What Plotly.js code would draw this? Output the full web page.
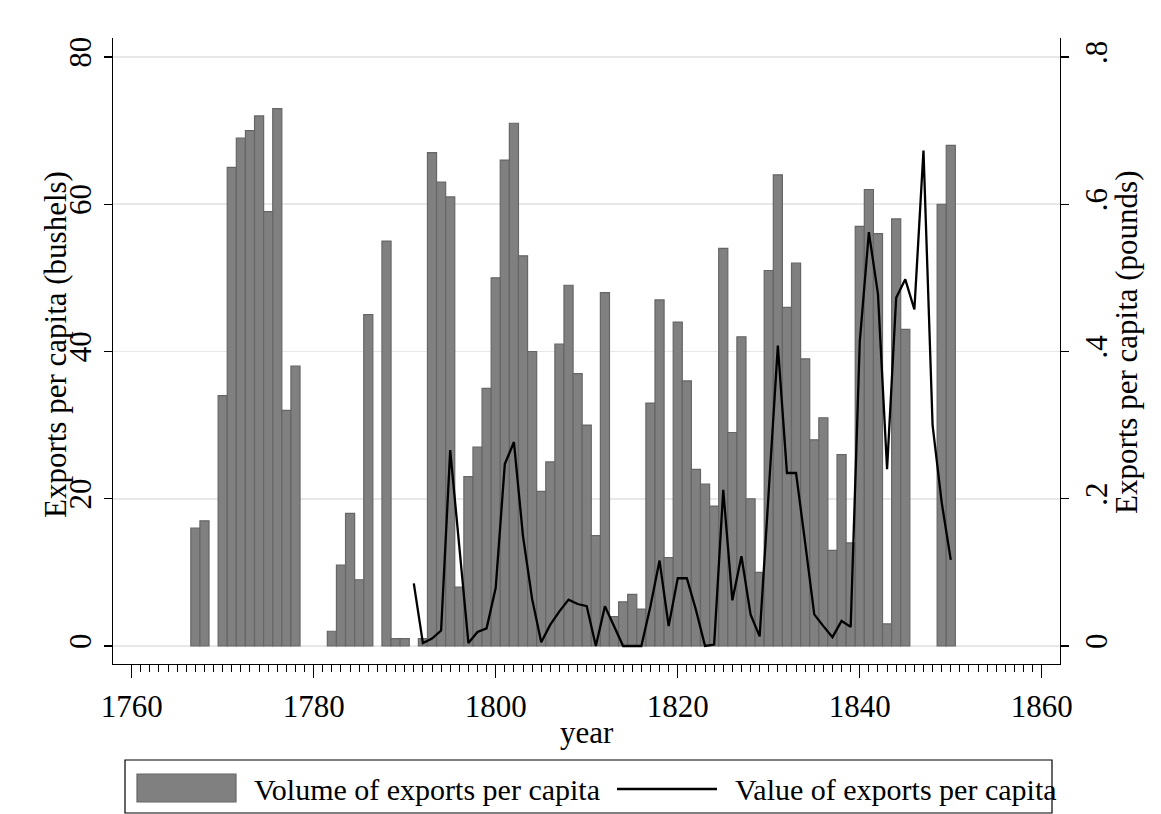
<!DOCTYPE html>
<html>
<head>
<meta charset="utf-8">
<script src="https://cdn.plot.ly/plotly-3.0.1.min.js"></script>
<style>
  html, body { margin: 0; padding: 0; background: white; }
  #myDiv { width: 1161px; height: 814px; }
</style>
</head>
<body>
<div id="myDiv"></div>
<script>
// volume of exports per capita (bushels), by year
var volYears = [1767, 1768, 1770, 1771, 1772, 1773, 1774, 1775, 1776, 1777, 1778,
  1782, 1783, 1784, 1785, 1786, 1788, 1789, 1790, 1792,
  1793, 1794, 1795, 1796, 1797, 1798, 1799, 1800, 1801, 1802, 1803, 1804, 1805,
  1806, 1807, 1808, 1809, 1810, 1811, 1812, 1813, 1814, 1815, 1816, 1817, 1818,
  1819, 1820, 1821, 1822, 1823, 1824, 1825, 1826, 1827, 1828, 1829, 1830, 1831,
  1832, 1833, 1834, 1835, 1836, 1837, 1838, 1839, 1840, 1841, 1842, 1843, 1844,
  1845, 1849, 1850];
var volume = [16, 17, 34, 65, 69, 70, 72, 59, 73, 32, 38,
  2, 11, 18, 9, 45, 55, 1, 1, 1,
  67, 63, 61, 8, 23, 27, 35, 50, 66, 71, 53, 40, 21,
  25, 41, 49, 37, 30, 15, 48, 4, 6, 7, 5, 33, 47,
  12, 44, 36, 24, 22, 19, 54, 29, 42, 20, 10, 51, 64,
  46, 52, 39, 28, 31, 13, 26, 14, 57, 62, 56, 3, 58,
  43, 60, 68];

// value of exports per capita (pounds), 1791-1850
var valYears = [1791, 1792, 1793, 1794, 1795, 1796, 1797, 1798, 1799, 1800,
  1801, 1802, 1803, 1804, 1805, 1806, 1807, 1808, 1809, 1810,
  1811, 1812, 1813, 1814, 1815, 1816, 1817, 1818, 1819, 1820,
  1821, 1822, 1823, 1824, 1825, 1826, 1827, 1828, 1829, 1830,
  1831, 1832, 1833, 1834, 1835, 1836, 1837, 1838, 1839, 1840,
  1841, 1842, 1843, 1844, 1845, 1846, 1847, 1848, 1849, 1850];
var value = [0.085, 0.004, 0.010, 0.021, 0.266, 0.13, 0.004, 0.019, 0.024, 0.079,
  0.247, 0.277, 0.149, 0.064, 0.005, 0.029, 0.047, 0.063, 0.057, 0.054,
  0.0, 0.054, 0.027, 0.0, 0.0, 0.0, 0.054, 0.116, 0.027, 0.092,
  0.092, 0.049, 0.0, 0.002, 0.212, 0.062, 0.122, 0.043, 0.013, 0.21,
  0.408, 0.235, 0.235, 0.14, 0.043, 0.027, 0.012, 0.034, 0.026, 0.413,
  0.562, 0.478, 0.240, 0.473, 0.498, 0.457, 0.673, 0.30, 0.195, 0.117];

var xTicks = [1760, 1780, 1800, 1820, 1840, 1860];
var leftTicks = [0, 20, 40, 60, 80];
var rightTicks = [0, 0.2, 0.4, 0.6, 0.8];
var rightLabels = ['0', '.2', '.4', '.6', '.8'];

// yearly minor ticks, only between the first and last major tick
var minorTicks = [];
for (var yr = xTicks[0] + 1; yr < xTicks[xTicks.length - 1]; yr++) {
  if (xTicks.indexOf(yr) < 0) minorTicks.push(yr);
}

var serif = 'Liberation Serif, Times New Roman, serif';
var std_font = {family: serif, size: 31, color: 'black'};
var legend_font = {family: serif, size: 30, color: 'black'};

// plot area in pixels
var L = 113, R = 1060, T = 38, B = 664;
function px(x) { return (x - L) / (R - L); }
function py(y) { return (B - y) / (B - T); }

var bars = {
  x: volYears,
  y: volume,
  type: 'bar',
  width: 1,
  name: 'Volume of exports per capita',
  marker: {color: '#808080', line: {color: '#666666', width: 1.2}}
};
var line = {
  x: valYears,
  y: value,
  type: 'scatter',
  mode: 'lines',
  yaxis: 'y2',
  name: 'Value of exports per capita',
  line: {color: 'black', width: 2.3}
};

var layout = {
  width: 1161,
  height: 814,
  margin: {l: L, r: 1161 - R, t: T, b: 814 - B},
  paper_bgcolor: 'white',
  plot_bgcolor: 'white',
  font: std_font,
  showlegend: false,
  bargap: 0,
  xaxis: {
    range: [1757.95, 1862.0],
    tickmode: 'array',
    tickvals: xTicks,
    ticks: 'outside',
    ticklen: 13,
    tickwidth: 1.3,
    tickcolor: 'black',
    showline: true,
    linecolor: 'black',
    linewidth: 1.3,
    showgrid: false,
    zeroline: false,
    tickfont: std_font,
    ticklabelstandoff: 1,
    minor: {tickmode: 'array', tickvals: minorTicks, ticks: 'outside', ticklen: 7,
            tickwidth: 1, tickcolor: 'black', showgrid: false}
  },
  yaxis: {
    range: [-2.445, 82.58],
    tickvals: leftTicks,
    tickangle: -90,
    ticks: 'outside',
    ticklen: 8,
    tickwidth: 1.3,
    tickcolor: 'black',
    showline: true,
    linecolor: 'black',
    linewidth: 1.3,
    showgrid: true,
    gridcolor: '#e8e8e8',
    gridwidth: 1.6,
    zeroline: false,
    tickfont: std_font
  },
  yaxis2: {
    range: [-0.02445, 0.8258],
    overlaying: 'y',
    side: 'right',
    tickvals: rightTicks,
    ticktext: rightLabels,
    tickangle: -90,
    ticks: 'outside',
    ticklen: 8,
    tickwidth: 1.3,
    tickcolor: 'black',
    showline: true,
    linecolor: 'black',
    linewidth: 1.3,
    showgrid: false,
    zeroline: false,
    tickfont: std_font
  },
  annotations: [
    {text: 'year', xref: 'paper', yref: 'paper', x: 0.5, y: py(732),
     xanchor: 'center', yanchor: 'middle', showarrow: false, font: std_font},
    {text: 'Exports per capita (bushels)', xref: 'paper', yref: 'paper', x: px(55), y: py(345),
     xanchor: 'center', yanchor: 'middle', textangle: -90, showarrow: false, font: std_font},
    {text: 'Exports per capita (pounds)', xref: 'paper', yref: 'paper', x: px(1127), y: py(343),
     xanchor: 'center', yanchor: 'middle', textangle: -90, showarrow: false, font: std_font},
    {text: 'Volume of exports per capita', xref: 'paper', yref: 'paper', x: px(252), y: py(789),
     xanchor: 'left', yanchor: 'middle', showarrow: false, font: legend_font},
    {text: 'Value of exports per capita', xref: 'paper', yref: 'paper', x: px(733), y: py(789),
     xanchor: 'left', yanchor: 'middle', showarrow: false, font: legend_font}
  ],
  shapes: [
    // legend box and keys
    {type: 'rect', xref: 'paper', yref: 'paper', x0: px(125), x1: px(1052), y0: py(813), y1: py(760),
     line: {color: 'black', width: 1.2}, fillcolor: 'rgba(0,0,0,0)'},
    {type: 'rect', xref: 'paper', yref: 'paper', x0: px(137), x1: px(236), y0: py(802), y1: py(774),
     line: {color: '#666666', width: 1.2}, fillcolor: '#808080'},
    {type: 'line', xref: 'paper', yref: 'paper', x0: px(617), x1: px(717), y0: py(789), y1: py(789),
     line: {color: 'black', width: 2.3}}
  ]
};

Plotly.newPlot('myDiv', [bars, line], layout, {displayModeBar: false, staticPlot: true});
</script>
</body>
</html>
